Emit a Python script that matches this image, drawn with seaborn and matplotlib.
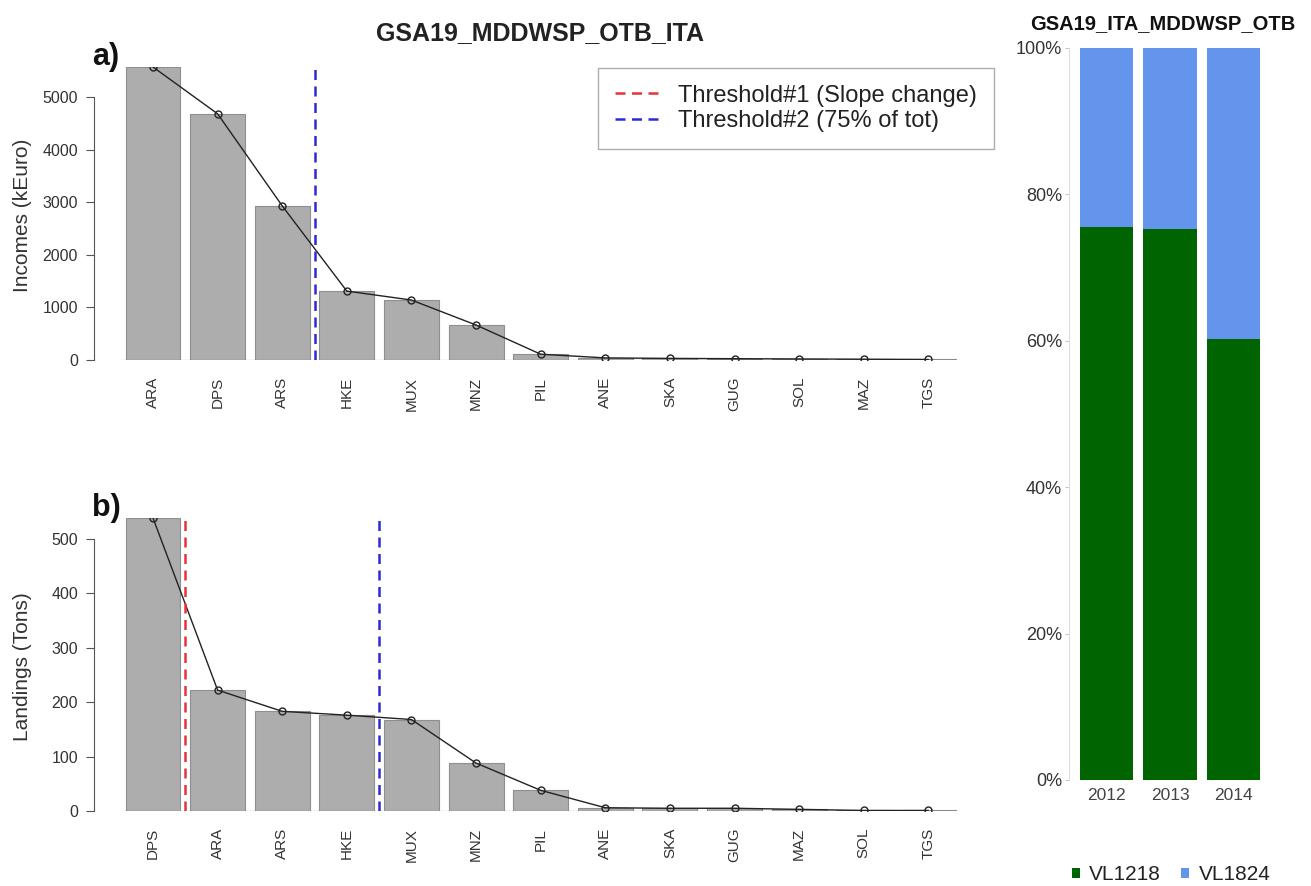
import numpy as np
import pandas as pd
import matplotlib
matplotlib.use("Agg")
import matplotlib.pyplot as plt
from matplotlib.lines import Line2D
from matplotlib.patches import Patch
import seaborn as sns

sns.set_theme(style="white")
plt.rcParams["font.family"] = ["Liberation Sans", "DejaVu Sans"]

# Income ranking (kEuro)
income_species = ["ARA", "DPS", "ARS", "HKE", "MUX", "MNZ", "PIL",
                  "ANE", "SKA", "GUG", "SOL", "MAZ", "TGS"]
income_values = [5570, 4680, 2930, 1310, 1140, 665, 110, 40, 30, 25, 20, 15, 10]
income_thr2 = 2.5          # 75% of total, between ARS and HKE

# Landings ranking (Tons)
land_species = ["DPS", "ARA", "ARS", "HKE", "MUX", "MNZ", "PIL",
                "ANE", "SKA", "GUG", "MAZ", "SOL", "TGS"]
land_values = [538, 222, 183, 176, 168, 88, 38, 6, 5, 5, 3, 1, 1]
land_thr1 = 0.5            # slope change, between DPS and ARA
land_thr2 = 3.5            # 75% of total, between HKE and MUX

# Fleet segment share per year
years = ["2012", "2013", "2014"]
share_vl1218 = [0.755, 0.753, 0.602]
share_vl1824 = [0.245, 0.247, 0.398]

W, H = 1311, 886
fig = plt.figure(figsize=(W / 100, H / 100), dpi=100)


def px_axes(x0, y0, x1, y1):
    """Axes from pixel box (left, top, right, bottom)."""
    return fig.add_axes([x0 / W, 1 - y1 / H, (x1 - x0) / W, (y1 - y0) / H])


BAR = "#ADADAD"
EDGE = "#8E8E8E"
TXT = "#333333"
RED = "#E8323C"
BLUE_T = "#2B2BD6"
DASH = (0, (4, 2.6))


def rank_panel(ax, species, values, yticks, thresholds):
    n = len(species)
    df = pd.DataFrame({"sp": species, "v": values})
    sns.barplot(data=df, x="sp", y="v", color=BAR, edgecolor=EDGE,
                linewidth=0.8, width=0.85, saturation=1, ax=ax)
    ax.plot(np.arange(n), values, color="#222222", lw=1.0, marker="o",
            ms=5, mfc="none", mec="#222222", mew=1.0, zorder=4)
    ax.hlines(0, -0.5, n - 0.5 + 0.15, color="#555555", lw=0.8, zorder=3)
    for xpos, col in thresholds:
        ax.axvline(xpos, color=col, lw=1.8, ls=DASH, zorder=5)
    ax.set_xlim(-0.913, 12.49)
    ax.set_ylim(0, max(values))
    ax.set_yticks(yticks)
    ax.set_yticklabels([str(t) for t in yticks], fontsize=11.5, color=TXT)
    ax.tick_params(axis="y", length=5.5, width=0.8, color="#555555",
                   pad=6, left=True)
    ax.tick_params(axis="x", length=0, pad=12)
    plt.setp(ax.get_xticklabels(), rotation=90, fontsize=11, color=TXT)
    ax.set_xlabel("")
    ax.set_ylabel("")
    for s in ["top", "right", "bottom"]:
        ax.spines[s].set_visible(False)
    ax.spines["left"].set_bounds(yticks[0], yticks[-1])
    ax.spines["left"].set_color("#555555")
    ax.spines["left"].set_linewidth(0.8)
    ax.patch.set_alpha(0)


ax_a = px_axes(94, 67, 960, 360)
rank_panel(ax_a, income_species, income_values,
           [0, 1000, 2000, 3000, 4000, 5000], [(income_thr2, BLUE_T)])

ax_b = px_axes(94, 518, 960, 811)
rank_panel(ax_b, land_species, land_values,
           [0, 100, 200, 300, 400, 500],
           [(land_thr1, RED), (land_thr2, BLUE_T)])

fig.text(22 / W, 1 - 215 / H, "Incomes (kEuro)", rotation=90, ha="center",
         va="center", fontsize=15, color=TXT)
fig.text(22 / W, 1 - 667 / H, "Landings (Tons)", rotation=90, ha="center",
         va="center", fontsize=15, color=TXT)

fig.text(540 / W, 1 - 33 / H, "GSA19_MDDWSP_OTB_ITA", ha="center",
         va="center", fontsize=18, fontweight="bold", color="#222222")
fig.text(92 / W, 1 - 57 / H, "a)", ha="left", va="center", fontsize=22,
         fontweight="bold", color="#111111")
fig.text(92 / W, 1 - 508 / H, "b)", ha="left", va="center", fontsize=22,
         fontweight="bold", color="#111111")

handles = [Line2D([0], [0], color=RED, lw=1.8, ls=DASH),
           Line2D([0], [0], color=BLUE_T, lw=1.8, ls=DASH)]
leg = fig.legend(handles, ["Threshold#1 (Slope change)",
                           "Threshold#2 (75% of tot)"],
                 loc="upper left", bbox_to_anchor=(598 / W, 1 - 68 / H),
                 fontsize=17, frameon=True, fancybox=False,
                 handlelength=1.9, handletextpad=0.8, borderpad=0.7,
                 labelspacing=0.15, borderaxespad=0)
leg.get_frame().set_edgecolor("#999999")
leg.get_frame().set_linewidth(1.0)
for t in leg.get_texts():
    t.set_color("#222222")

# Stacked share by fleet segment
ax_c = px_axes(1069, 48, 1271, 780)
GREEN = "#006400"
BLUE = "#6495ED"
df_c = pd.DataFrame({"year": years,
                     "total": np.add(share_vl1218, share_vl1824),
                     "vl1218": share_vl1218})
sns.barplot(data=df_c, x="year", y="total", color=BLUE, width=0.84,
            saturation=1, linewidth=0, ax=ax_c)
sns.barplot(data=df_c, x="year", y="vl1218", color=GREEN, width=0.84,
            saturation=1, linewidth=0, ax=ax_c)
ax_c.set_xlim(-0.6, 2.6)
ax_c.set_ylim(0, 1)
pct = [0, 0.2, 0.4, 0.6, 0.8, 1.0]
ax_c.set_yticks(pct)
ax_c.set_yticklabels([f"{int(round(p * 100))}%" for p in pct],
                     fontsize=13, color="#333333")
ax_c.tick_params(axis="y", length=3, width=0.6, color="#BBBBBB", pad=2,
                 left=True)
ax_c.tick_params(axis="x", length=0, pad=6)
plt.setp(ax_c.get_xticklabels(), fontsize=12.5, color="#444444")
ax_c.set_xlabel("")
ax_c.set_ylabel("")
for s in ["top", "right", "bottom"]:
    ax_c.spines[s].set_visible(False)
ax_c.spines["left"].set_color("#DDDDDD")
ax_c.spines["left"].set_linewidth(0.8)
ax_c.patch.set_alpha(0)

fig.text(1030 / W, 1 - 24 / H, "GSA19_ITA_MDDWSP_OTB", ha="left",
         va="center", fontsize=14.5, fontweight="bold", color="#111111")

seg_handles = [Patch(facecolor=GREEN, edgecolor="none"),
               Patch(facecolor=BLUE, edgecolor="none")]
leg2 = fig.legend(seg_handles, ["VL1218", "VL1824"], loc="center",
                  bbox_to_anchor=(1171 / W, 1 - 875 / H), ncol=2,
                  frameon=False, fontsize=15, handlelength=0.4,
                  handleheight=0.4, handletextpad=0.45, columnspacing=0.95,
                  borderpad=0, borderaxespad=0)
for t in leg2.get_texts():
    t.set_color("#222222")

fig.savefig("out.png", dpi=100)
